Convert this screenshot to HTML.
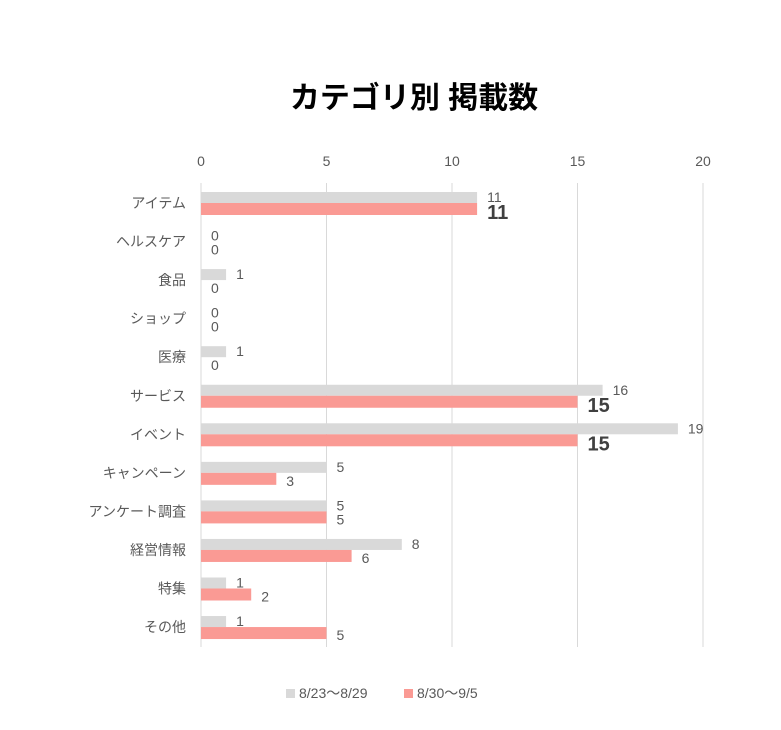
<!DOCTYPE html>
<html><head><meta charset="utf-8"><style>
body{margin:0;background:#fff;}
svg{display:block;font-family:"Liberation Sans","Noto Sans CJK JP",sans-serif;}
</style></head><body>
<svg id="c" width="781" height="730" viewBox="0 0 781 730">
<text x="414" y="108" text-anchor="middle" font-size="30" font-weight="bold" fill="#000">カテゴリ別 掲載数</text>
<g id="grid"></g><g id="bars"></g><g id="labels"></g>
<g>
<rect x="286" y="689" width="9" height="9" fill="#d9d9d9"/>
<text x="299" y="698" font-size="14" fill="#595959">8/23～8/29</text>
<rect x="404" y="689" width="9" height="9" fill="#fa9a94"/>
<text x="417" y="698" font-size="14" fill="#595959">8/30～9/5</text>
</g>
</svg>
<script>
const categories=["アイテム","ヘルスケア","食品","ショップ","医療","サービス","イベント","キャンペーン","アンケート調査","経営情報","特集","その他"];
const week1=[11,0,1,0,1,16,19,5,5,8,1,1];
const week2=[11,0,0,0,0,15,15,3,5,6,2,5];
const ticks=[0,5,10,15,20];
const NS="http://www.w3.org/2000/svg";
const x0=201,x1=703,xmax=20,yTop=203,step=38.55;
const X=v=>x0+(x1-x0)*v/xmax;
const Y=i=>yTop+i*step;
function mk(tag,attrs,parent){const e=document.createElementNS(NS,tag);for(const k in attrs)e.setAttribute(k,attrs[k]);parent.appendChild(e);return e;}
const grid=document.getElementById('grid'),bars=document.getElementById('bars'),labels=document.getElementById('labels');
ticks.forEach(t=>{
 const l=mk('line',{x1:X(t),x2:X(t),y1:183,y2:647,stroke:'#d9d9d9','stroke-width':1},grid);
 
 
 const tx=mk('text',{x:X(t),y:166,'text-anchor':'middle','font-size':14,fill:'#595959'},grid);
 tx.textContent=t;
 
 
});
categories.forEach((c,i)=>{
 const cy=Y(i);
 const ct=mk('text',{x:186,y:cy+5,'text-anchor':'end','font-size':14,fill:'#595959'},labels);
 ct.textContent=c;
 
 
 const b1=mk('rect',{x:x0,y:cy-11,width:X(week1[i])-x0,height:11,fill:'#d9d9d9'},bars);
 
 
 const b2=mk('rect',{x:x0,y:cy,width:X(week2[i])-x0,height:12,fill:'#fa9a94'},bars);
 
 
 const l1=mk('text',{x:X(week1[i])+10,y:cy-1,'font-size':14,fill:'#595959'},labels);
 l1.textContent=week1[i];
 
 
 const big=week2[i]>=10;
 const l2=mk('text',{x:X(week2[i])+10,y:big?cy+16:cy+13,'font-size':big?20:14,'font-weight':big?'bold':'normal',fill:big?'#404040':'#595959'},labels);
 l2.textContent=week2[i];
 
 
});
</script>
</body></html>
